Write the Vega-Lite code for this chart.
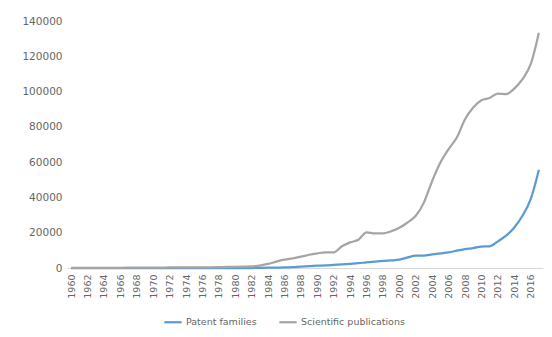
{
  "$schema": "https://vega.github.io/schema/vega-lite/v6.json",
  "autosize": {"type": "none"},
  "width": 476,
  "height": 247,
  "padding": {"left": 67, "top": 21, "right": 9, "bottom": 69},
  "background": "white",
  "config": {
    "view": {"stroke": null},
    "font": "DejaVu Sans",
    "axis": {"labelFont": "DejaVu Sans", "labelColor": "#666666", "grid": false, "ticks": false, "domain": false}
  },
  "datasets": {
    "d": [
      {"year": 1960, "Patent families": 0, "Scientific publications": 100},
      {"year": 1961, "Patent families": 0, "Scientific publications": 100},
      {"year": 1962, "Patent families": 0, "Scientific publications": 100},
      {"year": 1963, "Patent families": 0, "Scientific publications": 100},
      {"year": 1964, "Patent families": 0, "Scientific publications": 100},
      {"year": 1965, "Patent families": 0, "Scientific publications": 120},
      {"year": 1966, "Patent families": 0, "Scientific publications": 120},
      {"year": 1967, "Patent families": 0, "Scientific publications": 150},
      {"year": 1968, "Patent families": 0, "Scientific publications": 200},
      {"year": 1969, "Patent families": 0, "Scientific publications": 250},
      {"year": 1970, "Patent families": 0, "Scientific publications": 200},
      {"year": 1971, "Patent families": 0, "Scientific publications": 250},
      {"year": 1972, "Patent families": 0, "Scientific publications": 300},
      {"year": 1973, "Patent families": 0, "Scientific publications": 300},
      {"year": 1974, "Patent families": 0, "Scientific publications": 300},
      {"year": 1975, "Patent families": 0, "Scientific publications": 300},
      {"year": 1976, "Patent families": 0, "Scientific publications": 350},
      {"year": 1977, "Patent families": 0, "Scientific publications": 400},
      {"year": 1978, "Patent families": 0, "Scientific publications": 500},
      {"year": 1979, "Patent families": 0, "Scientific publications": 600},
      {"year": 1980, "Patent families": 0, "Scientific publications": 700},
      {"year": 1981, "Patent families": 0, "Scientific publications": 800},
      {"year": 1982, "Patent families": 0, "Scientific publications": 900},
      {"year": 1983, "Patent families": 100, "Scientific publications": 1300},
      {"year": 1984, "Patent families": 200, "Scientific publications": 2300},
      {"year": 1985, "Patent families": 200, "Scientific publications": 3600},
      {"year": 1986, "Patent families": 300, "Scientific publications": 4700},
      {"year": 1987, "Patent families": 500, "Scientific publications": 5500},
      {"year": 1988, "Patent families": 800, "Scientific publications": 6400},
      {"year": 1989, "Patent families": 1000, "Scientific publications": 7500},
      {"year": 1990, "Patent families": 1300, "Scientific publications": 8300},
      {"year": 1991, "Patent families": 1500, "Scientific publications": 8900},
      {"year": 1992, "Patent families": 1800, "Scientific publications": 8900},
      {"year": 1993, "Patent families": 2100, "Scientific publications": 12300},
      {"year": 1994, "Patent families": 2400, "Scientific publications": 14500},
      {"year": 1995, "Patent families": 2700, "Scientific publications": 16000},
      {"year": 1996, "Patent families": 3200, "Scientific publications": 20200},
      {"year": 1997, "Patent families": 3600, "Scientific publications": 19600},
      {"year": 1998, "Patent families": 4000, "Scientific publications": 19600},
      {"year": 1999, "Patent families": 4300, "Scientific publications": 20800},
      {"year": 2000, "Patent families": 4700, "Scientific publications": 22800},
      {"year": 2001, "Patent families": 6000, "Scientific publications": 25800},
      {"year": 2002, "Patent families": 7000, "Scientific publications": 29600},
      {"year": 2003, "Patent families": 7000, "Scientific publications": 37200},
      {"year": 2004, "Patent families": 7700, "Scientific publications": 49400},
      {"year": 2005, "Patent families": 8300, "Scientific publications": 59800},
      {"year": 2006, "Patent families": 8900, "Scientific publications": 67400},
      {"year": 2007, "Patent families": 9800, "Scientific publications": 74000},
      {"year": 2008, "Patent families": 10700, "Scientific publications": 84300},
      {"year": 2009, "Patent families": 11300, "Scientific publications": 91000},
      {"year": 2010, "Patent families": 12100, "Scientific publications": 95100},
      {"year": 2011, "Patent families": 12300, "Scientific publications": 96400},
      {"year": 2012, "Patent families": 15100, "Scientific publications": 98900},
      {"year": 2013, "Patent families": 18300, "Scientific publications": 98500},
      {"year": 2014, "Patent families": 23000, "Scientific publications": 101700},
      {"year": 2015, "Patent families": 29600, "Scientific publications": 107000},
      {"year": 2016, "Patent families": 39000, "Scientific publications": 115500},
      {"year": 2017, "Patent families": 55700, "Scientific publications": 133400}
    ]
  },
  "data": {"name": "d"},
  "transform": [
    {"fold": ["Patent families", "Scientific publications"], "as": ["series", "value"]}
  ],
  "mark": {"type": "line", "strokeWidth": 2.25, "interpolate": "monotone"},
  "encoding": {
    "x": {
      "field": "year",
      "type": "ordinal",
      "scale": {"type": "point", "padding": 0.5},
      "axis": {
        "title": null,
        "domain": true,
        "domainColor": "#d9d9d9",
        "labelAngle": -90,
        "labelFontSize": 9.5,
        "labelPadding": 6,
        "values": [1960,1962,1964,1966,1968,1970,1972,1974,1976,1978,1980,1982,1984,1986,1988,1990,1992,1994,1996,1998,2000,2002,2004,2006,2008,2010,2012,2014,2016]
      }
    },
    "y": {
      "field": "value",
      "type": "quantitative",
      "scale": {"domain": [0, 140000], "nice": false},
      "axis": {
        "title": null,
        "values": [0, 20000, 40000, 60000, 80000, 100000, 120000, 140000],
        "format": "d",
        "labelFontSize": 10.5,
        "labelPadding": 5
      }
    },
    "color": {
      "field": "series",
      "type": "nominal",
      "scale": {"domain": ["Patent families", "Scientific publications"], "range": ["#5b9bd5", "#a5a5a5"]},
      "legend": {
        "title": null,
        "orient": "none",
        "legendX": 96,
        "legendY": 291,
        "direction": "horizontal",
        "symbolType": "stroke",
        "symbolSize": 300,
        "symbolStrokeWidth": 2.25,
        "labelFont": "DejaVu Sans",
        "labelFontSize": 9.5,
        "labelColor": "#666666",
        "columnPadding": 17,
        "symbolOffset": 0,
        "labelOffset": 3
      }
    }
  }
}
